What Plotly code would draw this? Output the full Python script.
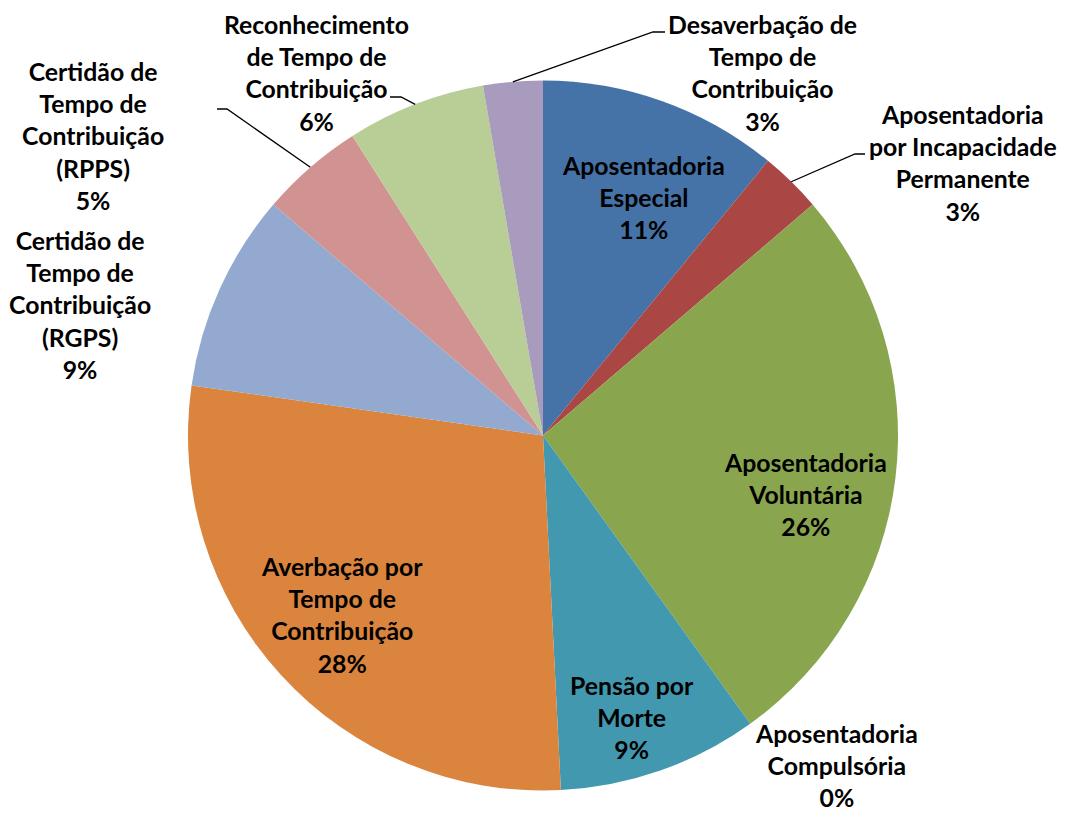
import math
import plotly.graph_objects as go

# ---- data ----
CATEGORIES = [
    "Aposentadoria<br>Especial",
    "Aposentadoria<br>por Incapacidade<br>Permanente",
    "Aposentadoria<br>Voluntária",
    "Aposentadoria<br>Compulsória",
    "Pensão por<br>Morte",
    "Averbação por<br>Tempo de<br>Contribuição",
    "Certidão de<br>Tempo de<br>Contribuição<br>(RGPS)",
    "Certidão de<br>Tempo de<br>Contribuição<br>(RPPS)",
    "Reconhecimento<br>de Tempo de<br>Contribuição",
    "Desaverbação de<br>Tempo de<br>Contribuição",
]
VALUES = [10.9, 2.8, 26.3, 0.0, 9.1, 28.0, 9.0, 4.7, 6.3, 2.7]
COLORS = ["#4572A7", "#AA4643", "#89A54E", "#80699B", "#4198AF",
          "#DB843D", "#93A9CF", "#D19392", "#B9CD96", "#A99BBD"]

# ---- layout (screen pixels in the 1067x819 window) ----
OFF = 8                       # default page body margin
W, H = 1067 - 2 * OFF, 819 - 2 * OFF
CX, CY, R = 543, 435.5, 355
LABEL_POS = [(643, 197), (963, 163), (805, 494), (836, 765), (632, 717),
             (342, 615), (80, 305), (93, 136), (316, 73), (762, 73)]
# leader lines: slice index -> list of elbow/end points
LEADERS = {
    1: [(855, 154), (865, 154)],
    7: [(227, 109), (217, 109)],
    8: [(401, 97), (390, 97)],
    9: [(653, 32), (665, 32)],
}

def px(x):
    return (x - OFF) / W

def py(y):
    return 1 - (y - OFF) / H

total = sum(VALUES)

fig = go.Figure(go.Pie(
    labels=[c.replace("<br>", " ") for c in CATEGORIES],
    values=VALUES,
    sort=False,
    direction="clockwise",
    rotation=0,
    marker=dict(colors=COLORS, line=dict(width=0)),
    textinfo="none",
    hoverinfo="label+percent",
    showlegend=False,
    domain=dict(x=[px(CX - R), px(CX + R)], y=[py(CY + R), py(CY - R)]),
))

annotations = []
for i, (cat, v) in enumerate(zip(CATEGORIES, VALUES)):
    pct = round(v / total * 100)
    x, y = LABEL_POS[i]
    annotations.append(dict(
        x=px(x), y=py(y), xref="paper", yref="paper",
        text=f"{cat}<br>{pct}%", showarrow=False,
        xanchor="center", yanchor="middle", align="center",
        font=dict(family="Lato", size=24.8, color="#000000", weight="bold"),
    ))

shapes = []
cum = 0.0
mids = []
for v in VALUES:
    mids.append((cum + v / 2) / total * 2 * math.pi)
    cum += v
for i, pts in LEADERS.items():
    a = mids[i]
    sx, sy = CX + R * math.sin(a), CY - R * math.cos(a)
    path = f"M {px(sx)},{py(sy)}"
    for (x, y) in pts:
        path += f" L {px(x)},{py(y)}"
    shapes.append(dict(type="path", path=path, xref="paper", yref="paper",
                       line=dict(color="#000000", width=1.3)))

fig.update_layout(
    width=W, height=H,
    margin=dict(l=0, r=0, t=0, b=0),
    paper_bgcolor="white", plot_bgcolor="white",
    annotations=annotations,
    shapes=shapes,
)

fig.write_html("out.html")
